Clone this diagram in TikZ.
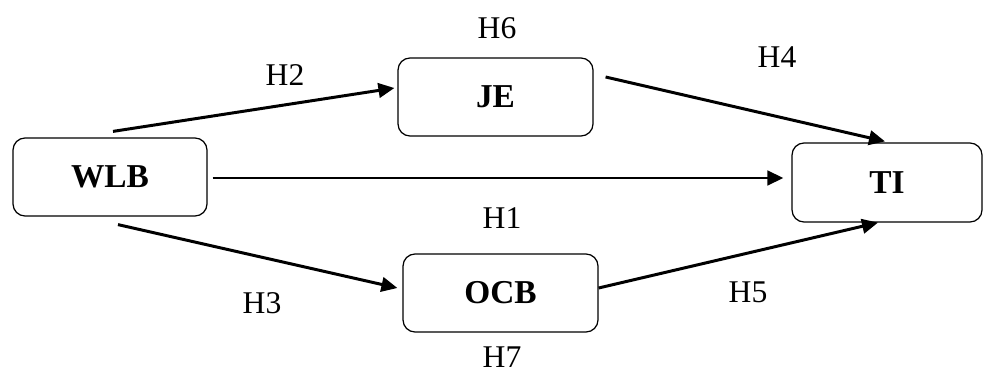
\documentclass[tikz,border=0pt]{standalone}
\usepackage{fontspec}
\setmainfont{Liberation Serif}
\usepackage{tikz}
\usetikzlibrary{arrows.meta}

\begin{document}
\begin{tikzpicture}[x=0.02cm,y=-0.02cm,
    varbox/.style={draw, rounded corners=0.24cm, line width=0.7pt, minimum height=1.56cm, minimum width=3.88cm, font=\fontsize{19}{22}\selectfont\bfseries},
    hyp/.style={inner sep=0.5pt, font=\fontsize{18}{21}\selectfont},
    link/.style={line width=1.7pt, -{Triangle[length=0.32cm,width=0.29cm]}}]
  \useasboundingbox (0,0) rectangle (984,372);
  \node[varbox] (wlb) at (110,177) {WLB};
  \node[varbox, minimum width=3.9cm] (je) at (495.5,97) {JE};
  \node[varbox, minimum width=3.8cm, minimum height=1.58cm] (ti) at (887,182.5) {TI};
  \node[varbox, minimum width=3.9cm] (ocb) at (500.5,293) {OCB};

  \node[hyp] (h1) at (502,218) {H1};
  \node[hyp] (h2) at (285,75) {H2};
  \node[hyp] (h3) at (262,303) {H3};
  \node[hyp] (h4) at (777,57) {H4};
  \node[hyp] (h5) at (748,292) {H5};
  \node[hyp] (h6) at (497,28) {H6};
  \node[hyp] (h7) at (502,357) {H7};

  \draw[link] ([shift={(3,-6)}]wlb.north) -- ([shift={(-3,-9)}]je.west);
  \draw[link] ([shift={(5,1)}]wlb.east) -- ([shift={(-8,-4.5)}]ti.west);
  \draw[link] ([shift={(8,8)}]wlb.south) -- ([shift={(-5,-5)}]ocb.west);
  \draw[link] ([shift={(12,-20)}]je.east) -- ([shift={(-2,-1)}]ti.north);
  \draw[link] ([shift={(0,-5)}]ocb.east) -- ([shift={(-9,0)}]ti.south);
\end{tikzpicture}
\end{document}
